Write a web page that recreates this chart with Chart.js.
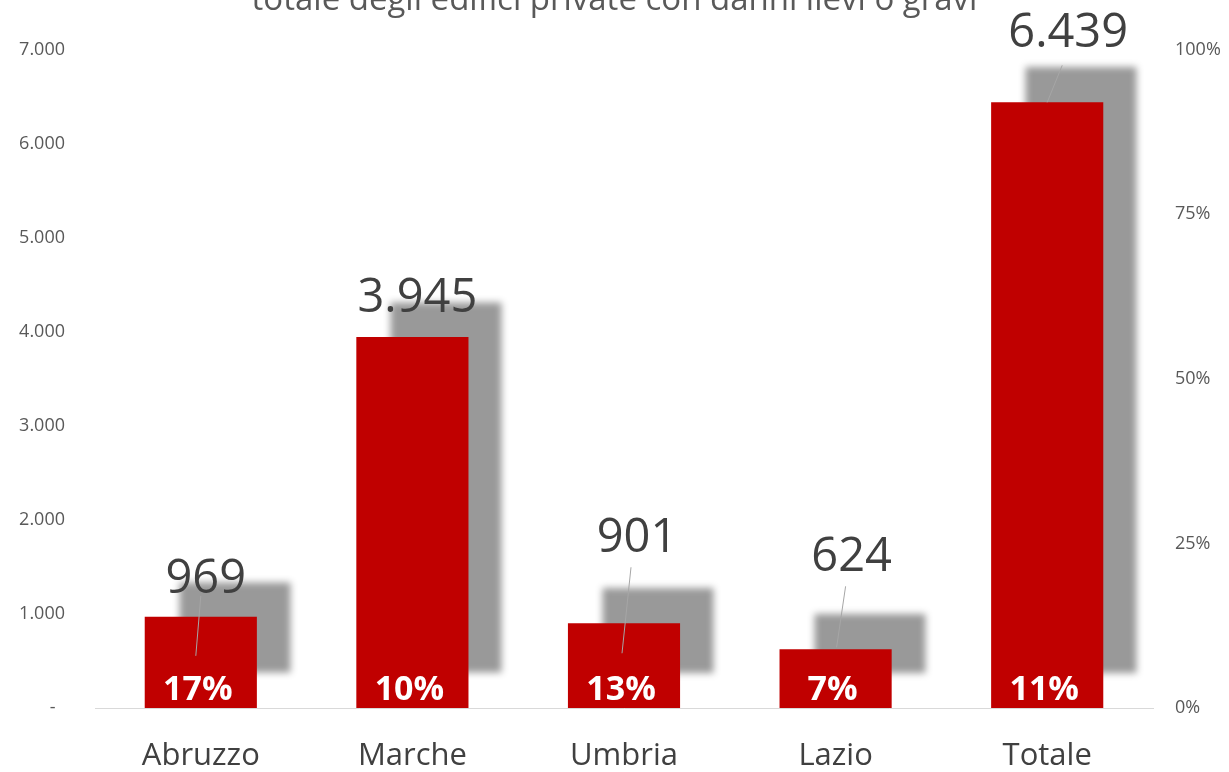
<!DOCTYPE html>
<html><head><meta charset="utf-8">
<script src="https://cdn.jsdelivr.net/npm/chart.js@4.4.0/dist/chart.umd.min.js"></script>
<style>
html,body{margin:0;padding:0;overflow:hidden;background:#fff;width:1229px;height:772px}
#wrap{position:absolute;left:0;top:-30px;width:1229px;height:805px}
</style></head><body>
<div id="wrap"><canvas id="c"></canvas></div>
<script>
const titleText = 'totale degli edifici private con danni lievi o gravi';
const categories = ['Abruzzo', 'Marche', 'Umbria', 'Lazio', 'Totale'];
const edifici = [969, 3945, 901, 624, 6439];
const percentuali = [17, 10, 13, 7, 11];
const leftTickLabels = ['-  ', '1.000', '2.000', '3.000', '4.000', '5.000', '6.000', '7.000'];
const rightTickLabels = ['0%', '25%', '50%', '75%', '100%'];

function fmt(v){ return String(v).replace(/\B(?=(\d{3})+(?!\d))/g, '.'); }

const shadowPlugin = {
  id: 'barShadow',
  beforeDatasetsDraw(chart){
    const ctx = chart.ctx;
    ctx.save();
    ctx.shadowColor = '#999999';
    ctx.shadowOffsetX = 34;
    ctx.shadowOffsetY = -35;
    ctx.shadowBlur = 7;
  },
  afterDatasetsDraw(chart){ chart.ctx.restore(); }
};

const labelPlugin = {
  id: 'barLabels',
  afterDraw(chart, args, opts){
    const ctx = chart.ctx;
    const meta = chart.getDatasetMeta(0);
    const bottom = chart.chartArea.bottom;
    meta.data.forEach((bar, i) => {
      const off = opts.valueOffsets[i];
      const lx = bar.x + off[0];
      const ly = bar.y + off[1];
      const ld = opts.leaders[i];
      if (ld) {
        ctx.save();
        ctx.strokeStyle = '#a6a6a6';
        ctx.lineWidth = 1;
        ctx.beginPath();
        ctx.moveTo(lx + ld[0], ly + ld[1]);
        ctx.lineTo(bar.x + ld[2], bar.y + ld[3]);
        ctx.stroke();
        ctx.restore();
      }
      ctx.save();
      ctx.fillStyle = '#404040';
      ctx.font = '47px "Open Sans"';
      ctx.textAlign = 'center';
      ctx.textBaseline = 'alphabetic';
      ctx.fillText(fmt(edifici[i]), lx, ly + 17);
      ctx.fillStyle = '#ffffff';
      ctx.font = 'bold 34px "Open Sans"';
      ctx.fillText(percentuali[i] + '%', bar.x - 3, bottom - 8);
      ctx.restore();
    });
  }
};

new Chart(document.getElementById('c'), {
  type: 'bar',
  data: {
    labels: categories,
    datasets: [{
      data: edifici,
      backgroundColor: '#C00000',
      borderWidth: 0,
      barPercentage: 0.53,
      categoryPercentage: 1.0,
      yAxisID: 'y'
    }]
  },
  options: {
    responsive: true,
    maintainAspectRatio: false,
    animation: false,
    devicePixelRatio: 1,
    layout: { padding: { left: 0, right: 0, top: 0, bottom: 0 } },
    plugins: {
      legend: { display: false },
      tooltip: { enabled: false },
      title: {
        display: true,
        text: titleText,
        color: '#595959',
        font: { family: 'Open Sans', size: 33, weight: 'normal' },
        padding: { top: 11, bottom: 29 }
      },
      barLabels: {
        valueOffsets: [[5, -41], [5, -42], [13, -88], [16, -95], [21, -72]],
        leaders: [[-5, 20, -5, 39], null, [-6, 32, -2, 30], [-6, 32, 1, -2], [-6, 35, 0, 0]]
      }
    },
    scales: {
      x: {
        grid: { display: false, drawTicks: false },
        border: { display: true, color: '#d9d9d9', width: 1 },
        ticks: { color: '#404040', font: { family: 'Open Sans', size: 31 }, padding: 30 },
        afterFit(scale){ scale.height = 67; }
      },
      y: {
        position: 'left',
        min: 0, max: 7000,
        grid: { display: false, drawTicks: false },
        border: { display: false },
        ticks: {
          stepSize: 1000,
          color: '#595959',
          font: { family: 'Open Sans', size: 18 },
          padding: 30,
          callback: (v, i) => leftTickLabels[i]
        },
        afterFit(scale){ scale.width = 95; }
      },
      y1: {
        position: 'right',
        min: 0, max: 100,
        grid: { display: false, drawTicks: false },
        border: { display: false },
        ticks: {
          stepSize: 25,
          color: '#595959',
          font: { family: 'Open Sans', size: 18 },
          padding: 22,
          callback: (v, i) => rightTickLabels[i]
        },
        afterFit(scale){ scale.width = 76; }
      }
    }
  },
  plugins: [shadowPlugin, labelPlugin]
});
</script>
</body></html>
